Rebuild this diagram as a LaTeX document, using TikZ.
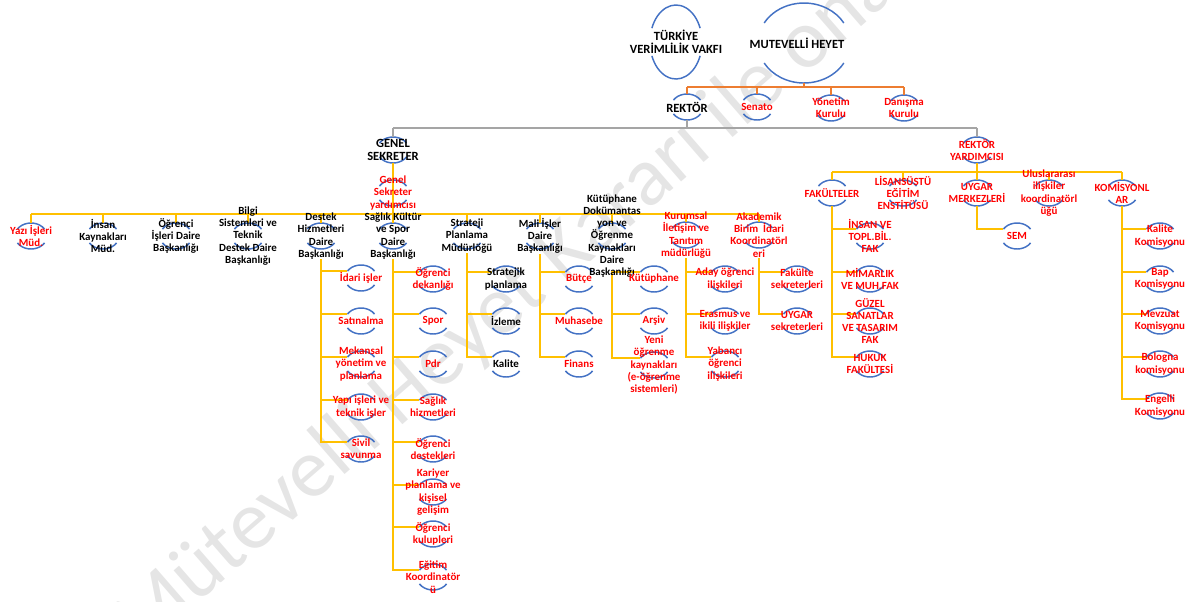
\documentclass[tikz,border=0pt]{standalone}
\usepackage{fontspec}
\setmainfont{Carlito}
\pgfdeclarelayer{background}
\pgfsetlayers{background,main}

\definecolor{arcblue}{HTML}{4472C4}
\definecolor{busyellow}{HTML}{FFC000}
\definecolor{busorange}{HTML}{ED7D31}
\definecolor{busgray}{HTML}{A5A5A5}
\definecolor{unitred}{HTML}{FF0000}

\tikzset{
    unit/.style={font=\bfseries\fontsize{8.2}{9.2}\selectfont, align=center, inner sep=0pt},
    topunit/.style={unit, font=\bfseries\fontsize{9.4}{9.4}\selectfont},
    redunit/.style={unit, text=unitred},
    arc line/.style={draw=arcblue, line width=1.1pt},
    ybus/.style={draw=busyellow, line width=1.5pt},
    obus/.style={draw=busorange, line width=1.5pt},
    gbus/.style={draw=busgray, line width=1.5pt},
    stamp/.style={font=\fontsize{63}{63}\selectfont, text=black!10, rotate=41}
}

% arcs above and below a unit: name, centre, x radius, y radius, angle
\newcommand{\unitarcs}[5]{%
    \begin{pgfonlayer}{background}
        \draw[arc line] (#2) ++(#5:#3 and #4) arc[start angle=#5, end angle=180-#5, x radius=#3, y radius=#4];
        \draw[arc line] (#2) ++(180+#5:#3 and #4) arc[start angle=180+#5, end angle=360-#5, x radius=#3, y radius=#4];
    \end{pgfonlayer}
    \path (#2) ++(0,-#4) coordinate (#1-t)
          (#2) ++(0,#4) coordinate (#1-b)
          (#2) ++(180+#5:#3 and #4) coordinate (#1-l);
}
\newcommand{\orgunit}[4][unit]{%
    \node[#1] (#2) at (#3) {#4};
    \unitarcs{#2}{#3}{16}{13}{32}
}

\begin{document}
\begin{tikzpicture}[x=0.75pt, y=-0.75pt]
    \useasboundingbox (0,0) rectangle (1196,601);
    \begin{pgfonlayer}{background}
        \node[stamp] (watermark) at (535,280) {Mütevelli Heyet Kararı ile onaylı};
    \end{pgfonlayer}

    % top
    \node[topunit] (vakif) at (676,42) {TÜRKİYE\\VERİMLİLİK VAKFI};
    \unitarcs{vakif}{676,42}{26}{37}{22}
    \node[topunit] (heyet) at (797,43) {MUTEVELLİ HEYET};
    \unitarcs{heyet}{804,43}{46}{40}{30}
    \orgunit[topunit]{rektor}{687,107}{REKTÖR}
    \orgunit[redunit]{senato}{757,107}{Senato}
    \orgunit[redunit]{yonetim}{831,108}{Yönetim\\Kurulu}
    \orgunit[redunit]{danisma}{904,108}{Danışma\\Kurulu}

    \orgunit[topunit]{gensek}{393,150}{GENEL\\SEKRETER}
    \orgunit[redunit]{rekyard}{977,150}{REKTÖR\\YARDIMCISI}
    \orgunit[redunit]{gsyard}{393,193}{Genel\\Sekreter\\yardımcısı}

    % genel sekreter units
    \orgunit[redunit]{yazi}{31,236}{Yazı İşleri\\Müd.}
    \orgunit{insan}{103,236}{İnsan\\Kaynakları\\Müd.}
    \orgunit{ogris}{176,236}{Öğrenci\\İşleri Daire\\Başkanlığı}
    \orgunit{bilgi}{248,236}{Bilgi\\Sistemleri ve\\Teknik\\Destek Daire\\Başkanlığı}
    \orgunit{destek}{321,236}{Destek\\Hizmetleri\\Daire\\Başkanlığı}
    \orgunit{saglik}{393,236}{Sağlık Kültür\\ve Spor\\Daire\\Başkanlığı}
    \orgunit{strateji}{467,236}{Strateji\\Planlama\\Müdürlöğü}
    \orgunit{mali}{540,236}{Mali İşler\\Daire\\Başkanlığı}
    \orgunit{kutup}{612,236}{Kütüphane\\Dokümantas\\yon ve\\Öğrenme\\Kaynakları\\Daire\\Başkanlığı}
    \orgunit[redunit]{kurumsal}{686,235}{Kurumsal\\İletişim ve\\Tanıtım\\müdürlüğü}
    \orgunit[redunit]{akademik}{759,235}{Akademik\\Birim~ İdari\\Koordinatörl\\eri}

    \orgunit[redunit]{idari}{361,278}{İdari işler}
    \orgunit[redunit]{satin}{361,321}{Satınalma}
    \orgunit[redunit]{mekansal}{361,364}{Mekansal\\yönetim ve\\planlama}
    \orgunit[redunit]{yapi}{361,407}{Yapı işleri ve\\teknik işler}
    \orgunit[redunit]{sivil}{361,449}{Sivil\\savunma}

    \orgunit[redunit]{dekan}{433,279}{Öğrenci\\dekanlığı}
    \orgunit[redunit]{spor}{433,321}{Spor}
    \orgunit[redunit]{pdr}{433,364}{Pdr}
    \orgunit[redunit]{shizmet}{433,407}{Sağlık\\hizmetleri}
    \orgunit[redunit]{odestek}{433,449}{Öğrenci\\destekleri}
    \orgunit[redunit]{kariyer}{433,492}{Kariyer\\planlama ve\\kişisel\\gelişim}
    \orgunit[redunit]{kulup}{433,534}{Öğrenci\\kulupleri}
    \orgunit[redunit]{egitim}{433,577}{Eğitim\\Koordinatör\\ü}

    \orgunit{splan}{506,279}{Stratejik\\planlama}
    \orgunit{izleme}{506,321}{İzleme}
    \orgunit{kalite}{506,364}{Kalite}

    \orgunit[redunit]{butce}{579,279}{Bütçe}
    \orgunit[redunit]{muhasebe}{579,321}{Muhasebe}
    \orgunit[redunit]{finans}{579,364}{Finans}

    \orgunit[redunit]{kutuphane}{654,279}{Kütüphane}
    \orgunit[redunit]{arsiv}{654,321}{Arşiv}
    \orgunit[redunit]{yeni}{654,365}{Yeni\\öğrenme\\kaynakları\\(e-öğrenme\\sistemleri)}

    \orgunit[redunit]{aday}{725,279}{Aday öğrenci\\ilişkileri}
    \orgunit[redunit]{erasmus}{725,321}{Erasmus ve\\ikili ilişkiler}
    \orgunit[redunit]{yabanci}{725,364}{Yabancı\\öğrenci\\ilişkileri}

    \orgunit[redunit]{fsekr}{797,279}{Fakülte\\sekreterleri}
    \orgunit[redunit]{usekr}{797,321}{UYGAR\\sekreterleri}

    % rektor yardimcisi units
    \orgunit[redunit]{fakulte}{832,193}{FAKÜLTELER}
    \orgunit[redunit]{lisans}{903,193}{LİSANSÜSTÜ\\EĞİTİM\\ENSTİTÜSÜ}
    \orgunit[redunit]{uygar}{977,193}{UYGAR\\MERKEZLERİ}
    \orgunit[redunit]{ulus}{1049,193}{Uluslararası\\ilişkiler\\koordinatörl\\üğü}
    \orgunit[redunit]{komis}{1122,193}{KOMİSYONL\\AR}

    \orgunit[redunit]{insanfak}{870,236}{İNSAN VE\\TOPL.BİL.\\FAK}
    \orgunit[redunit]{mimar}{870,279}{MİMARLIK\\VE MUH.FAK}
    \orgunit[redunit]{guzel}{870,321}{GÜZEL\\SANATLAR\\VE TASARIM\\FAK}
    \orgunit[redunit]{hukuk}{870,364}{HUKUK\\FAKÜLTESİ}

    \orgunit[redunit]{sem}{1017,236}{SEM}

    \orgunit[redunit]{kkom}{1160,236}{Kalite\\Komisyonu}
    \orgunit[redunit]{bap}{1160,279}{Bap\\Komisyonu}
    \orgunit[redunit]{mevzuat}{1160,321}{Mevzuat\\Komisyonu}
    \orgunit[redunit]{bologna}{1160,364}{Bologna\\komisyonu}
    \orgunit[redunit]{engelli}{1160,406}{Engelli\\Komisyonu}

    \begin{pgfonlayer}{background}
        % mutevelli heyet
        \coordinate (topbus) at (804,87);
        \draw[obus] (heyet-b) -- (topbus);
        \draw[obus] (rektor-t |- topbus) -- (danisma-t |- topbus);
        \foreach \n in {rektor,senato,yonetim,danisma}
            \draw[obus] (\n-t |- topbus) -- (\n-t);

        % rektor
        \coordinate (midbus) at (687,128);
        \draw[gbus] (rektor-b) -- (midbus);
        \draw[gbus] (gensek-t |- midbus) -- (rekyard-t |- midbus);
        \draw[gbus] (gensek-t |- midbus) -- (gensek-t);
        \draw[gbus] (rekyard-t |- midbus) -- (rekyard-t);

        % genel sekreter
        \coordinate (gsbus) at (393,214);
        \draw[ybus] (gensek-b) -- (gsbus);
        \draw[ybus] (yazi-t |- gsbus) -- (akademik-t |- gsbus);
        \foreach \n in {yazi,insan,ogris,bilgi,destek,saglik,strateji,mali,kutup,kurumsal,akademik}
            \draw[ybus] (\n-t |- gsbus) -- (\n-t);
        \foreach \c in {idari,satin,mekansal,yapi,sivil}
            \draw[ybus] (destek.south) |- (\c-l);
        \foreach \c in {dekan,spor,pdr,shizmet,odestek,kariyer,kulup,egitim}
            \draw[ybus] (saglik.south) |- (\c-l);
        \foreach \c in {splan,izleme,kalite}
            \draw[ybus] (strateji.south) |- (\c-l);
        \foreach \c in {butce,muhasebe,finans}
            \draw[ybus] (mali.south) |- (\c-l);
        \foreach \c in {kutuphane,arsiv,yeni}
            \draw[ybus] (kutup.south) |- (\c-l);
        \foreach \c in {aday,erasmus,yabanci}
            \draw[ybus] (kurumsal.south) |- (\c-l);
        \foreach \c in {fsekr,usekr}
            \draw[ybus] (akademik.south) |- (\c-l);

        % rektor yardimcisi
        \coordinate (rybus) at (977,172);
        \draw[ybus] (rekyard-b) -- (rybus);
        \draw[ybus] (fakulte-t |- rybus) -- (komis-t |- rybus);
        \foreach \n in {fakulte,lisans,uygar,ulus,komis}
            \draw[ybus] (\n-t |- rybus) -- (\n-t);
        \foreach \c in {insanfak,mimar,guzel,hukuk}
            \draw[ybus] (fakulte-b) |- (\c-l);
        \draw[ybus] (uygar-b) |- (sem-l);
        \foreach \c in {kkom,bap,mevzuat,bologna,engelli}
            \draw[ybus] (komis-b) |- (\c-l);
    \end{pgfonlayer}
\end{tikzpicture}
\end{document}
